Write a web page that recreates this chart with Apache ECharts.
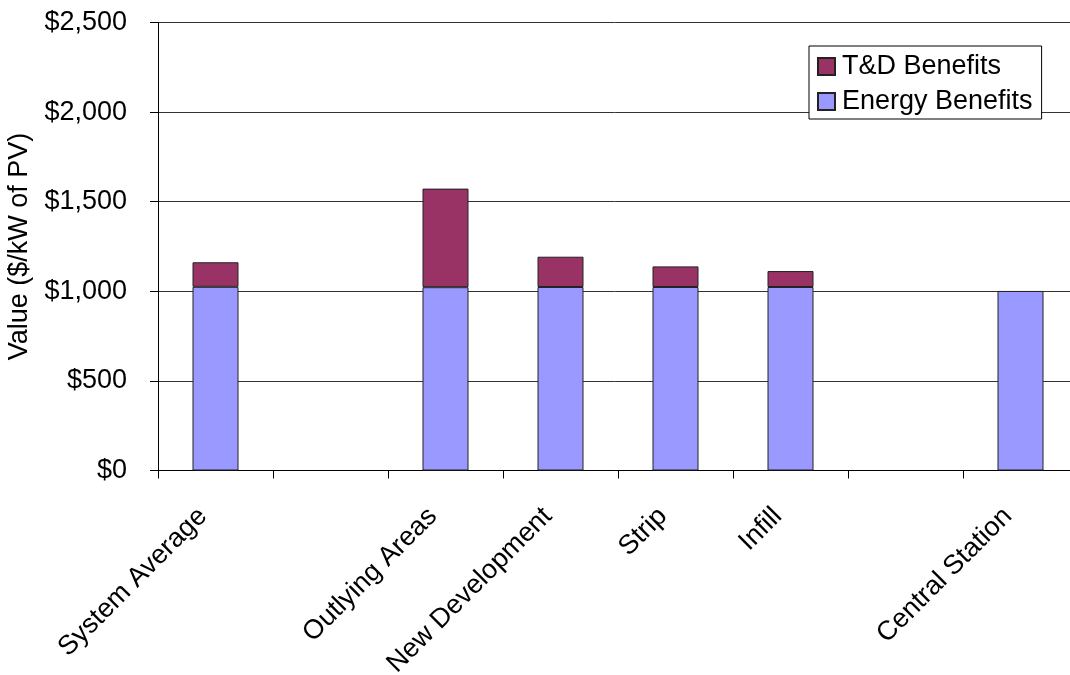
<!DOCTYPE html>
<html>
<head>
<meta charset="utf-8">
<script src="https://cdn.jsdelivr.net/npm/echarts@6/dist/echarts.min.js"></script>
<style>
html,body{margin:0;padding:0;background:#fff;}
#chart{width:1070px;height:675px;}
</style>
</head>
<body>
<div id="chart"></div>
<script>
var categories = ['System Average', '', 'Outlying Areas', 'New Development', 'Strip', 'Infill', '', 'Central Station'];
var energyBenefits = [1025, null, 1023, 1024, 1024, 1024, null, 1002];
var tdBenefits = [137, null, 550, 169, 115, 89, null, null];
var yTicks = [0, 500, 1000, 1500, 2000, 2500];

var FONT = "'Liberation Sans', Arial, sans-serif";
var chart = echarts.init(document.getElementById('chart'));
chart.setOption({
  animation: false,
  backgroundColor: '#fff',
  textStyle: {fontFamily: FONT},
  grid: {left: 158, top: 22.5, width: 920, height: 448, containLabel: false, outerBoundsMode: 'none'},
  legend: {
    orient: 'vertical',
    left: 809, top: 46,
    padding: [7, 9, 4, 8],
    itemGap: 8,
    itemWidth: 17, itemHeight: 17,
    icon: 'rect',
    backgroundColor: '#fff',
    borderColor: '#000', borderWidth: 1,
    textStyle: {fontFamily: FONT, fontSize: 27, lineHeight: 27, color: '#000', padding: [0, 0, 0, 2]},
    data: ['T&D Benefits', 'Energy Benefits']
  },
  xAxis: {
    type: 'category',
    data: categories,
    axisLine: {lineStyle: {color: '#000', width: 1}},
    axisTick: {show: true, length: 8, lineStyle: {color: '#000'}},
    axisLabel: {rotate: 45, interval: 0, fontFamily: FONT, fontSize: 27, color: '#000', margin: 29, padding: [0, 18, 0, 0]}
  },
  yAxis: {
    type: 'value',
    min: yTicks[0], max: yTicks[yTicks.length - 1], interval: 500,
    name: 'Value ($/kW of PV)',
    nameLocation: 'middle',
    nameGap: 114,
    nameTextStyle: {fontFamily: FONT, fontSize: 27, color: '#000'},
    axisLine: {show: true, lineStyle: {color: '#000', width: 1}},
    axisTick: {show: true, length: 8, lineStyle: {color: '#000'}},
    splitLine: {show: true, lineStyle: {color: '#333', width: 1}},
    axisLabel: {
      fontFamily: FONT, fontSize: 27, color: '#000', margin: 31,
      formatter: function (v) { return '$' + v.toLocaleString('en-US'); }
    }
  },
  series: [
    {
      name: 'Energy Benefits', type: 'bar', stack: 'total',
      data: energyBenefits, barWidth: '40%',
      itemStyle: {color: '#9999FF', borderColor: '#222', borderWidth: 1}
    },
    {
      name: 'T&D Benefits', type: 'bar', stack: 'total',
      data: tdBenefits, barWidth: '40%',
      itemStyle: {color: '#993366', borderColor: '#222', borderWidth: 1}
    }
  ]
});
</script>
</body>
</html>
